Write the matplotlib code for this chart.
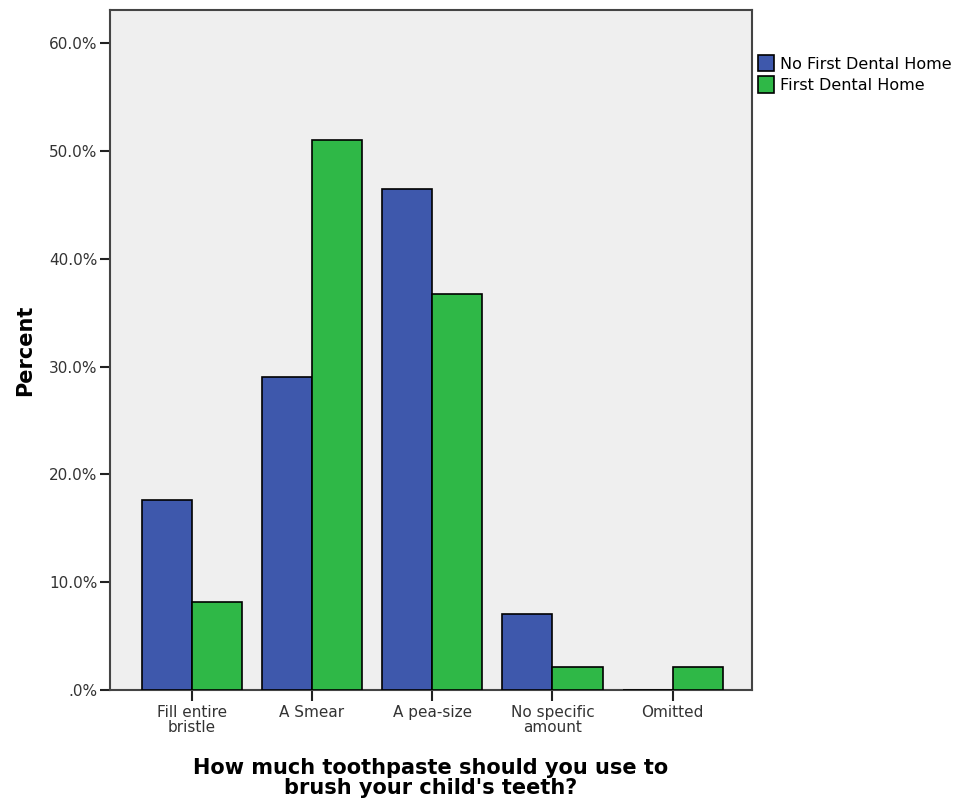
import numpy as np
import matplotlib.pyplot as plt
from matplotlib.ticker import FuncFormatter

categories = ["Fill entire\nbristle", "A Smear", "A pea-size", "No specific\namount", "Omitted"]
no_home = [17.6, 29.0, 46.5, 7.05, 0.0]
first_home = [8.2, 51.0, 36.75, 2.1, 2.1]
series_names = ["No First Dental Home", "First Dental Home"]
colors = ["#3e58ac", "#2fb847"]

fig = plt.figure(figsize=(9.64, 8.08), dpi=100)
ax = fig.add_axes([110/964, 1-690/808, 642/964, 680/808])
ax.set_facecolor("#efefef")

x = np.arange(len(categories))
w = 0.417
ax.bar(x - w/2, no_home, w, color=colors[0], edgecolor="black", linewidth=1.2,
       label=series_names[0], zorder=3)
ax.bar(x + w/2, first_home, w, color=colors[1], edgecolor="black", linewidth=1.2,
       label=series_names[1], zorder=3)

ax.set_xlim(-0.68, 4.66)
ax.set_ylim(0, 63.1)
ax.set_yticks(np.arange(0, 61, 10))
ax.yaxis.set_major_formatter(FuncFormatter(lambda v, p: ".0%" if v == 0 else f"{v:.1f}%"))
ax.set_xticks(x)
ax.set_xticklabels(categories, linespacing=1.0)
ax.tick_params(axis="both", direction="out", length=8, width=1.5, colors="#222222", labelsize=11, labelcolor="#333333")
ax.tick_params(axis="x", pad=3)
ax.tick_params(axis="y", length=7, pad=2)
for s in ax.spines.values():
    s.set_color("#444444")
    s.set_linewidth(1.5)

ax.set_ylabel("Percent", fontsize=15, fontweight="bold", labelpad=10)
ax.set_xlabel("How much toothpaste should you use to\nbrush your child's teeth?", fontsize=15,
              fontweight="bold", labelpad=16, linespacing=1.05)

fig.legend(loc="upper left", bbox_to_anchor=(750/964, 1-47/808), frameon=False, fontsize=11.5,
           handlelength=1.0, handleheight=1.2, handletextpad=0.4, labelspacing=0.3, borderpad=0)

fig.savefig("out.png", dpi=100)
